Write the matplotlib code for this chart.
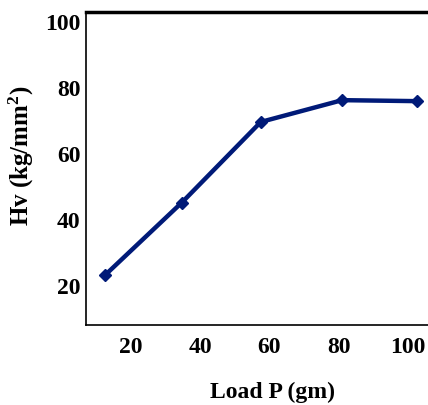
import matplotlib.pyplot as plt

# Hardness vs load
load = [12.5, 34.7, 57.5, 81.0, 102.6]
hv = [23.0, 45.0, 69.4, 76.0, 75.7]

xticks = [20, 40, 60, 80, 100]
yticks = [20, 40, 60, 80, 100]

plt.rcParams['font.family'] = ['Liberation Serif', 'DejaVu Serif']
plt.rcParams['font.weight'] = 'bold'
plt.rcParams['mathtext.fontset'] = 'custom'
plt.rcParams['mathtext.bf'] = 'Liberation Serif:bold'

fig = plt.figure(figsize=(4.28, 4.06), dpi=100)
ax = fig.add_axes([86 / 428, 1 - 326 / 406, 1 - 86 / 428, (326 - 13) / 406])

ax.plot(load, hv, color='#001a78', linewidth=3.2, marker='D', markersize=6,
        markerfacecolor='#001a78', markeredgecolor='#001a78', clip_on=False)

ax.set_xlim(7.0, 105.8)
ax.set_ylim(7.9, 102.7)
ax.set_xticks(xticks)
ax.set_yticks(yticks)
ax.tick_params(length=0, labelsize=17)
ax.tick_params(axis='y', pad=4)
ax.tick_params(axis='x', pad=8)
for lab in ax.get_xticklabels() + ax.get_yticklabels():
    lab.set_fontweight('bold')

ax.spines['right'].set_visible(False)
ax.spines['top'].set_linewidth(2.5)
ax.spines['left'].set_linewidth(1.2)
ax.spines['bottom'].set_linewidth(1.2)

ax.set_xlabel('Load P (gm)', fontsize=17, fontweight='bold')
ax.set_ylabel('Hv (kg/mm$\\mathbf{^2}$)', fontsize=18, fontweight='bold')
ax.xaxis.set_label_coords((273 - 86) / 342, -0.178)
ax.yaxis.set_label_coords((36 - 86) / 342, (326 - 156) / 313)

fig.savefig('out.png', dpi=100)
